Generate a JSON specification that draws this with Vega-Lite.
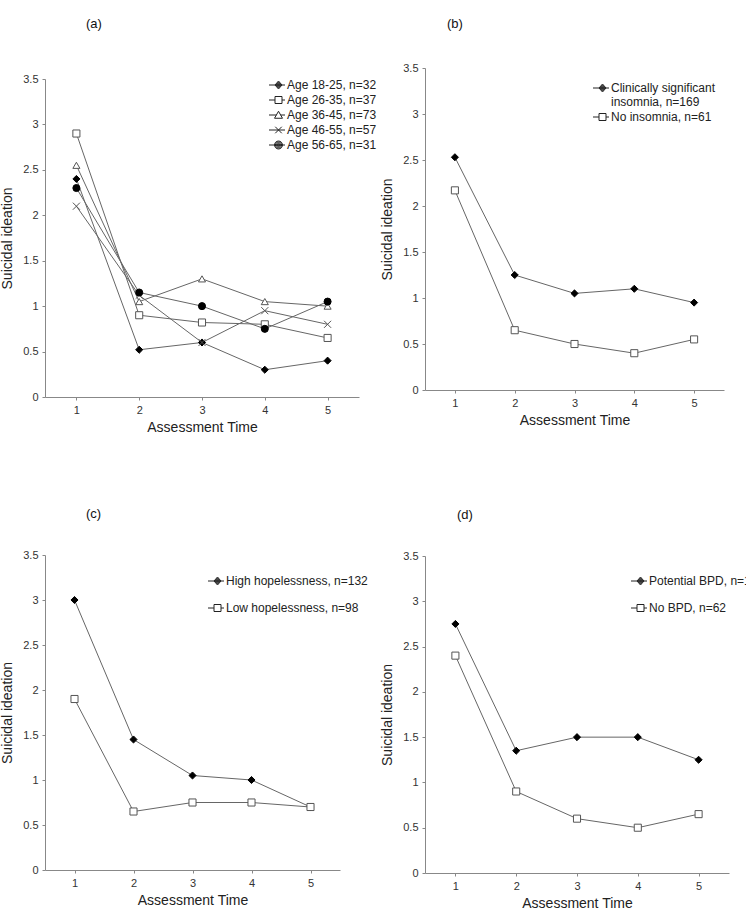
{
  "$schema": "https://vega.github.io/schema/vega-lite/v6.json",
  "padding": {"left": 0, "top": 18, "right": 0, "bottom": 0},
  "background": "white",
  "datasets": {
    "age": [
      {"group": "Age 18-25, n=32", "time": 1, "ideation": 2.4},
      {"group": "Age 18-25, n=32", "time": 2, "ideation": 0.52},
      {"group": "Age 18-25, n=32", "time": 3, "ideation": 0.6},
      {"group": "Age 18-25, n=32", "time": 4, "ideation": 0.3},
      {"group": "Age 18-25, n=32", "time": 5, "ideation": 0.4},
      {"group": "Age 26-35, n=37", "time": 1, "ideation": 2.9},
      {"group": "Age 26-35, n=37", "time": 2, "ideation": 0.9},
      {"group": "Age 26-35, n=37", "time": 3, "ideation": 0.82},
      {"group": "Age 26-35, n=37", "time": 4, "ideation": 0.8},
      {"group": "Age 26-35, n=37", "time": 5, "ideation": 0.65},
      {"group": "Age 36-45, n=73", "time": 1, "ideation": 2.55},
      {"group": "Age 36-45, n=73", "time": 2, "ideation": 1.05},
      {"group": "Age 36-45, n=73", "time": 3, "ideation": 1.3},
      {"group": "Age 36-45, n=73", "time": 4, "ideation": 1.05},
      {"group": "Age 36-45, n=73", "time": 5, "ideation": 1.0},
      {"group": "Age 46-55, n=57", "time": 1, "ideation": 2.1},
      {"group": "Age 46-55, n=57", "time": 2, "ideation": 1.12},
      {"group": "Age 46-55, n=57", "time": 3, "ideation": 0.6},
      {"group": "Age 46-55, n=57", "time": 4, "ideation": 0.95},
      {"group": "Age 46-55, n=57", "time": 5, "ideation": 0.8},
      {"group": "Age 56-65, n=31", "time": 1, "ideation": 2.3},
      {"group": "Age 56-65, n=31", "time": 2, "ideation": 1.15},
      {"group": "Age 56-65, n=31", "time": 3, "ideation": 1.0},
      {"group": "Age 56-65, n=31", "time": 4, "ideation": 0.75},
      {"group": "Age 56-65, n=31", "time": 5, "ideation": 1.05}
    ],
    "insomnia": [
      {"group": "Clinically significant insomnia, n=169", "time": 1, "ideation": 2.53},
      {"group": "Clinically significant insomnia, n=169", "time": 2, "ideation": 1.25},
      {"group": "Clinically significant insomnia, n=169", "time": 3, "ideation": 1.05},
      {"group": "Clinically significant insomnia, n=169", "time": 4, "ideation": 1.1},
      {"group": "Clinically significant insomnia, n=169", "time": 5, "ideation": 0.95},
      {"group": "No insomnia, n=61", "time": 1, "ideation": 2.17},
      {"group": "No insomnia, n=61", "time": 2, "ideation": 0.65},
      {"group": "No insomnia, n=61", "time": 3, "ideation": 0.5},
      {"group": "No insomnia, n=61", "time": 4, "ideation": 0.4},
      {"group": "No insomnia, n=61", "time": 5, "ideation": 0.55}
    ],
    "hopelessness": [
      {"group": "High hopelessness, n=132", "time": 1, "ideation": 3.0},
      {"group": "High hopelessness, n=132", "time": 2, "ideation": 1.45},
      {"group": "High hopelessness, n=132", "time": 3, "ideation": 1.05},
      {"group": "High hopelessness, n=132", "time": 4, "ideation": 1.0},
      {"group": "High hopelessness, n=132", "time": 5, "ideation": 0.7},
      {"group": "Low hopelessness, n=98", "time": 1, "ideation": 1.9},
      {"group": "Low hopelessness, n=98", "time": 2, "ideation": 0.65},
      {"group": "Low hopelessness, n=98", "time": 3, "ideation": 0.75},
      {"group": "Low hopelessness, n=98", "time": 4, "ideation": 0.75},
      {"group": "Low hopelessness, n=98", "time": 5, "ideation": 0.7}
    ],
    "bpd": [
      {"group": "Potential BPD, n=168", "time": 1, "ideation": 2.75},
      {"group": "Potential BPD, n=168", "time": 2, "ideation": 1.35},
      {"group": "Potential BPD, n=168", "time": 3, "ideation": 1.5},
      {"group": "Potential BPD, n=168", "time": 4, "ideation": 1.5},
      {"group": "Potential BPD, n=168", "time": 5, "ideation": 1.25},
      {"group": "No BPD, n=62", "time": 1, "ideation": 2.4},
      {"group": "No BPD, n=62", "time": 2, "ideation": 0.9},
      {"group": "No BPD, n=62", "time": 3, "ideation": 0.6},
      {"group": "No BPD, n=62", "time": 4, "ideation": 0.5},
      {"group": "No BPD, n=62", "time": 5, "ideation": 0.65}
    ]
  },
  "columns": 2,
  "spacing": {"column": 3, "row": 74},
  "resolve": {
    "scale": {"shape": "independent", "fill": "independent", "stroke": "independent", "x": "independent", "y": "independent"},
    "legend": {"shape": "independent", "fill": "independent", "stroke": "independent"}
  },
  "concat": [
    {
      "title": {"text": "(a)", "dx": 41, "offset": 37},
      "width": 314,
      "height": 329,
      "data": {"name": "age"},
      "encoding": {
        "x": {"field": "time", "type": "ordinal", "scale": {"type": "point", "padding": 0.5}, "axis": {"title": "Assessment Time", "labelAngle": 0}},
        "y": {"field": "ideation", "type": "quantitative", "scale": {"domain": [0, 3.5], "range": [329, 11]}, "axis": {"title": "Suicidal ideation", "values": [0, 0.5, 1, 1.5, 2, 2.5, 3, 3.5], "format": ".1~f"}}
      },
      "resolve": {"scale": {"shape": "independent"}},
      "layer": [
        {"mark": {"type": "line", "color": "#666", "strokeWidth": 1}, "encoding": {"detail": {"field": "group"}}},
        {
          "mark": {"type": "point", "filled": true, "opacity": 1, "strokeWidth": 1, "size": 50},
          "encoding": {
            "shape": {"field": "group", "type": "nominal", "legend": null, "scale": {"domain": ["Age 18-25, n=32", "Age 26-35, n=37", "Age 36-45, n=73", "Age 46-55, n=57", "Age 56-65, n=31"], "range": ["diamond", "square", "triangle-up", "M-1,-1L1,1M-1,1L1,-1", "circle"]}},
            "fill": {"field": "group", "type": "nominal", "legend": null, "scale": {"domain": ["Age 18-25, n=32", "Age 26-35, n=37", "Age 36-45, n=73", "Age 46-55, n=57", "Age 56-65, n=31"], "range": ["#000", "#fff", "#fff", "transparent", "#000"]}},
            "stroke": {"field": "group", "type": "nominal", "legend": null, "scale": {"domain": ["Age 18-25, n=32", "Age 26-35, n=37", "Age 36-45, n=73", "Age 46-55, n=57", "Age 56-65, n=31"], "range": ["#000", "#555", "#555", "#555", "#000"]}}
          }
        },
        {
          "transform": [{"filter": "datum.time > 5"}],
          "mark": {"type": "point", "fill": "#fff", "stroke": "#222", "opacity": 1, "strokeWidth": 1},
          "encoding": {
            "shape": {
              "field": "group", "type": "nominal",
              "scale": {"domain": ["Age 18-25, n=32", "Age 26-35, n=37", "Age 36-45, n=73", "Age 46-55, n=57", "Age 56-65, n=31"],
                "range": [
                  "M-1,0H2.2M0.9,-0.8L1.6,0L0.9,0.8L0.2,0ZM0.9,-0.62L1.44,0L0.9,0.62L0.36,0ZM0.9,-0.44L1.28,0L0.9,0.44L0.52,0ZM0.9,-0.26L1.12,0L0.9,0.26L0.68,0ZM0.9,-0.1L0.98,0L0.9,0.1L0.82,0Z",
                  "M-1,0H0.2M1.6,0H2.2M0.2,-0.7H1.6V0.7H0.2Z",
                  "M-1,0H0.47M1.33,0H2.2M0.9,-0.75L1.7,0.65H0.1Z",
                  "M-1,0H2.2M0.25,-0.65L1.55,0.65M0.25,0.65L1.55,-0.65",
                  "M-1,0H2.2M0.1,0A0.8,0.8,0,1,0,1.7,0A0.8,0.8,0,1,0,0.1,0ZM0.28,0A0.62,0.62,0,1,0,1.52,0A0.62,0.62,0,1,0,0.28,0ZM0.46,0A0.44,0.44,0,1,0,1.34,0A0.44,0.44,0,1,0,0.46,0ZM0.64,0A0.26,0.26,0,1,0,1.16,0A0.26,0.26,0,1,0,0.64,0ZM0.8,0A0.1,0.1,0,1,0,1,0A0.1,0.1,0,1,0,0.8,0Z"
                ]},
              "legend": {
                "orient": "none", "legendX": 223, "legendY": 11, "title": null, "padding": 0, "rowPadding": 3,
                "symbolSize": 100, "symbolStrokeWidth": 1, "symbolOpacity": 1, "labelOffset": 7, "labelFontSize": 12, "labelLimit": 400
              }
            }
          }
        }
      ]
    },
    {
      "title": {"text": "(b)", "dx": 22, "offset": 31},
      "width": 299,
      "height": 322,
      "data": {"name": "insomnia"},
      "encoding": {
        "x": {"field": "time", "type": "ordinal", "scale": {"type": "point", "padding": 0.5}, "axis": {"title": "Assessment Time", "labelAngle": 0}},
        "y": {"field": "ideation", "type": "quantitative", "scale": {"domain": [0, 3.5]}, "axis": {"title": "Suicidal ideation", "values": [0, 0.5, 1, 1.5, 2, 2.5, 3, 3.5], "format": ".1~f"}}
      },
      "resolve": {"scale": {"shape": "independent"}},
      "layer": [
        {"mark": {"type": "line", "color": "#666", "strokeWidth": 1}, "encoding": {"detail": {"field": "group"}}},
        {
          "mark": {"type": "point", "filled": true, "opacity": 1, "strokeWidth": 1, "size": 50},
          "encoding": {
            "shape": {"field": "group", "type": "nominal", "legend": null, "scale": {"domain": ["Clinically significant insomnia, n=169", "No insomnia, n=61"], "range": ["diamond", "square"]}},
            "fill": {"field": "group", "type": "nominal", "legend": null, "scale": {"domain": ["Clinically significant insomnia, n=169", "No insomnia, n=61"], "range": ["#000", "#fff"]}},
            "stroke": {"field": "group", "type": "nominal", "legend": null, "scale": {"domain": ["Clinically significant insomnia, n=169", "No insomnia, n=61"], "range": ["#000", "#555"]}}
          }
        },
        {
          "transform": [{"filter": "datum.time > 5"}],
          "mark": {"type": "point", "fill": "#fff", "stroke": "#222", "opacity": 1, "strokeWidth": 1},
          "encoding": {
            "shape": {
              "field": "group", "type": "nominal",
              "scale": {"domain": ["Clinically significant insomnia, n=169", "No insomnia, n=61"],
                "range": [
                  "M-1,0H2.2M0.9,-0.8L1.6,0L0.9,0.8L0.2,0ZM0.9,-0.62L1.44,0L0.9,0.62L0.36,0ZM0.9,-0.44L1.28,0L0.9,0.44L0.52,0ZM0.9,-0.26L1.12,0L0.9,0.26L0.68,0ZM0.9,-0.1L0.98,0L0.9,0.1L0.82,0Z",
                  "M-1,0H0.2M1.6,0H2.2M0.2,-0.7H1.6V0.7H0.2Z"
                ]},
              "legend": {
                "orient": "none", "legendX": 167, "legendY": 14, "title": null, "padding": 0, "rowPadding": 3,
                "symbolSize": 100, "symbolStrokeWidth": 1, "symbolOpacity": 1, "labelOffset": 7, "labelFontSize": 12, "labelLimit": 400,
                "labelExpr": "datum.label == 'Clinically significant insomnia, n=169' ? ['Clinically significant', 'insomnia, n=169'] : datum.label"
              }
            }
          }
        }
      ]
    },
    {
      "title": {"text": "(c)", "dx": 41, "offset": 28},
      "width": 295,
      "height": 315,
      "data": {"name": "hopelessness"},
      "encoding": {
        "x": {"field": "time", "type": "ordinal", "scale": {"type": "point", "padding": 0.5}, "axis": {"title": "Assessment Time", "labelAngle": 0}},
        "y": {"field": "ideation", "type": "quantitative", "scale": {"domain": [0, 3.5]}, "axis": {"title": "Suicidal ideation", "values": [0, 0.5, 1, 1.5, 2, 2.5, 3, 3.5], "format": ".1~f"}}
      },
      "resolve": {"scale": {"shape": "independent"}},
      "layer": [
        {"mark": {"type": "line", "color": "#666", "strokeWidth": 1}, "encoding": {"detail": {"field": "group"}}},
        {
          "mark": {"type": "point", "filled": true, "opacity": 1, "strokeWidth": 1, "size": 50},
          "encoding": {
            "shape": {"field": "group", "type": "nominal", "legend": null, "scale": {"domain": ["High hopelessness, n=132", "Low hopelessness, n=98"], "range": ["diamond", "square"]}},
            "fill": {"field": "group", "type": "nominal", "legend": null, "scale": {"domain": ["High hopelessness, n=132", "Low hopelessness, n=98"], "range": ["#000", "#fff"]}},
            "stroke": {"field": "group", "type": "nominal", "legend": null, "scale": {"domain": ["High hopelessness, n=132", "Low hopelessness, n=98"], "range": ["#000", "#555"]}}
          }
        },
        {
          "transform": [{"filter": "datum.time > 5"}],
          "mark": {"type": "point", "fill": "#fff", "stroke": "#222", "opacity": 1, "strokeWidth": 1},
          "encoding": {
            "shape": {
              "field": "group", "type": "nominal",
              "scale": {"domain": ["High hopelessness, n=132", "Low hopelessness, n=98"],
                "range": [
                  "M-1,0H2.2M0.9,-0.8L1.6,0L0.9,0.8L0.2,0ZM0.9,-0.62L1.44,0L0.9,0.62L0.36,0ZM0.9,-0.44L1.28,0L0.9,0.44L0.52,0ZM0.9,-0.26L1.12,0L0.9,0.26L0.68,0ZM0.9,-0.1L0.98,0L0.9,0.1L0.82,0Z",
                  "M-1,0H0.2M1.6,0H2.2M0.2,-0.7H1.6V0.7H0.2Z"
                ]},
              "legend": {
                "orient": "none", "legendX": 162, "legendY": 20, "title": null, "padding": 0, "rowPadding": 15,
                "symbolSize": 100, "symbolStrokeWidth": 1, "symbolOpacity": 1, "labelOffset": 7, "labelFontSize": 12, "labelLimit": 400
              }
            }
          }
        }
      ]
    },
    {
      "title": {"text": "(d)", "dx": 32, "offset": 28},
      "width": 304,
      "height": 318,
      "data": {"name": "bpd"},
      "encoding": {
        "x": {"field": "time", "type": "ordinal", "scale": {"type": "point", "padding": 0.5}, "axis": {"title": "Assessment Time", "labelAngle": 0}},
        "y": {"field": "ideation", "type": "quantitative", "scale": {"domain": [0, 3.5], "range": [318, 1]}, "axis": {"title": "Suicidal ideation", "values": [0, 0.5, 1, 1.5, 2, 2.5, 3, 3.5], "format": ".1~f"}}
      },
      "resolve": {"scale": {"shape": "independent"}},
      "layer": [
        {"mark": {"type": "line", "color": "#666", "strokeWidth": 1}, "encoding": {"detail": {"field": "group"}}},
        {
          "mark": {"type": "point", "filled": true, "opacity": 1, "strokeWidth": 1, "size": 50},
          "encoding": {
            "shape": {"field": "group", "type": "nominal", "legend": null, "scale": {"domain": ["Potential BPD, n=168", "No BPD, n=62"], "range": ["diamond", "square"]}},
            "fill": {"field": "group", "type": "nominal", "legend": null, "scale": {"domain": ["Potential BPD, n=168", "No BPD, n=62"], "range": ["#000", "#fff"]}},
            "stroke": {"field": "group", "type": "nominal", "legend": null, "scale": {"domain": ["Potential BPD, n=168", "No BPD, n=62"], "range": ["#000", "#555"]}}
          }
        },
        {
          "transform": [{"filter": "datum.time > 5"}],
          "mark": {"type": "point", "fill": "#fff", "stroke": "#222", "opacity": 1, "strokeWidth": 1},
          "encoding": {
            "shape": {
              "field": "group", "type": "nominal",
              "scale": {"domain": ["Potential BPD, n=168", "No BPD, n=62"],
                "range": [
                  "M-1,0H2.2M0.9,-0.8L1.6,0L0.9,0.8L0.2,0ZM0.9,-0.62L1.44,0L0.9,0.62L0.36,0ZM0.9,-0.44L1.28,0L0.9,0.44L0.52,0ZM0.9,-0.26L1.12,0L0.9,0.26L0.68,0ZM0.9,-0.1L0.98,0L0.9,0.1L0.82,0Z",
                  "M-1,0H0.2M1.6,0H2.2M0.2,-0.7H1.6V0.7H0.2Z"
                ]},
              "legend": {
                "orient": "none", "legendX": 205, "legendY": 20, "title": null, "padding": 0, "rowPadding": 15,
                "symbolSize": 100, "symbolStrokeWidth": 1, "symbolOpacity": 1, "labelOffset": 7, "labelFontSize": 12, "labelLimit": 400
              }
            }
          }
        }
      ]
    }
  ],
  "config": {
    "font": "Liberation Sans",
    "view": {"stroke": null},
    "title": {"anchor": "start", "frame": "group", "fontSize": 13, "fontWeight": "normal", "color": "#111", "font": "Liberation Sans"},
    "axis": {
      "grid": false, "domainColor": "#888", "tickColor": "#888", "tickSize": 3,
      "labelFont": "Liberation Sans", "labelFontSize": 11, "labelColor": "#333", "labelPadding": 4,
      "titleFont": "Liberation Sans", "titleFontSize": 14, "titleFontWeight": "normal", "titleColor": "#222"
    },
    "axisX": {"titlePadding": 5},
    "axisY": {"titlePadding": 8},
    "legend": {"labelFont": "Liberation Sans", "labelColor": "#222"}
  }
}
